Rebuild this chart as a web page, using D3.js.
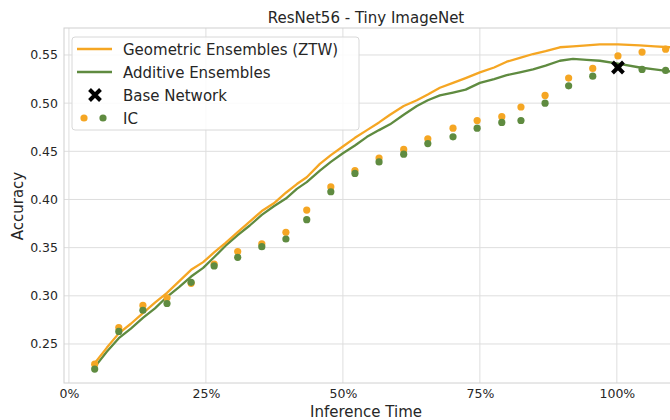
<!DOCTYPE html>
<html>
<head>
<meta charset="utf-8">
<script src="https://cdn.jsdelivr.net/npm/d3@7"></script>
<style>
  body { margin: 0; background: #fff; }
  svg text { font-family: "DejaVu Sans", sans-serif; fill: #262626; }
</style>
</head>
<body>
<svg id="chart" width="670" height="420"></svg>
<script>
// IC (internal classifier) points: inference time in %, accuracy
const icTime = [4.7, 9.1, 13.5, 17.9, 22.3, 26.5, 30.8, 35.2, 39.6, 43.4, 47.8, 52.2, 56.6,
  61.1, 65.5, 70.1, 74.5, 79.0, 82.5, 86.9, 91.2, 95.6, 100.2, 104.6, 108.9];
const icZtw = [0.229, 0.267, 0.290, 0.298, 0.313, 0.333, 0.346, 0.354, 0.366, 0.389, 0.413,
  0.430, 0.443, 0.452, 0.463, 0.474, 0.482, 0.486, 0.496, 0.508, 0.526, 0.536, 0.549, 0.553, 0.556];
const icAdd = [0.224, 0.263, 0.285, 0.292, 0.314, 0.331, 0.340, 0.351, 0.359, 0.379, 0.408,
  0.427, 0.439, 0.447, 0.458, 0.465, 0.474, 0.480, 0.482, 0.500, 0.518, 0.528, 0.538, 0.535, 0.534];

// ensemble curves
const ensTime = [4.7, 6.9, 9.1, 11.3, 13.5, 15.7, 17.9, 20.1, 22.3, 24.5, 26.5, 28.6, 30.8, 33.0,
  35.2, 37.4, 39.6, 41.6, 43.4, 45.8, 47.8, 50.0, 52.2, 54.4, 56.6, 58.6, 61.1, 63.5, 65.5, 67.7,
  70.1, 72.4, 75.0, 77.6, 79.9, 82.3, 84.7, 87.0, 89.6, 92.0, 94.5, 96.9, 100.2, 104.2, 106.9, 109.7, 111.5];
const geomAcc = [0.230, 0.246, 0.261, 0.271, 0.282, 0.293, 0.303, 0.315, 0.327, 0.335, 0.345, 0.355,
  0.366, 0.377, 0.388, 0.396, 0.407, 0.416, 0.423, 0.437, 0.446, 0.455, 0.464, 0.472, 0.480, 0.488,
  0.497, 0.503, 0.509, 0.516, 0.521, 0.526, 0.532, 0.537, 0.543, 0.547, 0.551, 0.554, 0.558, 0.559,
  0.560, 0.561, 0.561, 0.560, 0.559, 0.558, 0.557];
const addAcc = [0.226, 0.242, 0.256, 0.266, 0.277, 0.287, 0.299, 0.309, 0.320, 0.329, 0.340, 0.352,
  0.363, 0.373, 0.384, 0.393, 0.401, 0.411, 0.418, 0.430, 0.439, 0.448, 0.456, 0.465, 0.472, 0.478,
  0.488, 0.497, 0.503, 0.508, 0.511, 0.514, 0.521, 0.525, 0.529, 0.532, 0.535, 0.539, 0.544, 0.546,
  0.545, 0.544, 0.541, 0.537, 0.535, 0.533, 0.532];

const baseTime = [100.2];
const baseAcc = [0.537];

const xTicks = [0, 25, 50, 75, 100];
const yTicks = [0.25, 0.30, 0.35, 0.40, 0.45, 0.50, 0.55];

const orange = '#f5a623';
const green = '#5f8b40';

const svg = d3.select('#chart');
const plot = { left: 64, right: 670, top: 28, bottom: 383 };

const x = d3.scaleLinear().domain([-0.9, 109.7]).range([plot.left, plot.right]);
const y = d3.scaleLinear().domain([0.2095, 0.578]).range([plot.bottom, plot.top]);

svg.append('defs').append('clipPath').attr('id', 'clip')
  .append('rect')
  .attr('x', plot.left).attr('y', plot.top)
  .attr('width', plot.right - plot.left).attr('height', plot.bottom - plot.top);

// grid
const grid = svg.append('g').attr('class', 'grid');
grid.selectAll('line.gx').data(xTicks).enter().append('line')
  .attr('x1', d => x(d)).attr('x2', d => x(d))
  .attr('y1', plot.top).attr('y2', plot.bottom)
  .attr('stroke', '#dedede').attr('stroke-width', 1);
grid.selectAll('line.gy').data(yTicks).enter().append('line')
  .attr('y1', d => y(d)).attr('y2', d => y(d))
  .attr('x1', plot.left).attr('x2', plot.right)
  .attr('stroke', '#dedede').attr('stroke-width', 1);

// spines
svg.append('rect')
  .attr('x', plot.left).attr('y', plot.top)
  .attr('width', plot.right - plot.left + 5).attr('height', plot.bottom - plot.top)
  .attr('fill', 'none').attr('stroke', '#d0d0d0').attr('stroke-width', 1);

// axes (labels only, seaborn style without tick marks)
const xAxis = svg.append('g')
  .attr('transform', `translate(0,${plot.bottom})`)
  .call(d3.axisBottom(x).tickValues(xTicks).tickFormat(d => d + '%').tickSize(0).tickPadding(6));
const yAxis = svg.append('g')
  .attr('transform', `translate(${plot.left},0)`)
  .call(d3.axisLeft(y).tickValues(yTicks).tickFormat(d3.format('.2f')).tickSize(0).tickPadding(6));
[xAxis, yAxis].forEach(a => {
  a.select('.domain').remove();
  a.selectAll('text').style('font-size', '12.5px').style('font-family', '"DejaVu Sans", sans-serif').attr('fill', '#333');
});

const marks = svg.append('g').attr('clip-path', 'url(#clip)');

const line = d3.line().x(d => x(d[0])).y(d => y(d[1]));

marks.append('path')
  .datum(ensTime.map((t, i) => [t, addAcc[i]]))
  .attr('d', line).attr('fill', 'none')
  .attr('stroke', green).attr('stroke-width', 2.3).attr('stroke-linejoin', 'round');
marks.append('path')
  .datum(ensTime.map((t, i) => [t, geomAcc[i]]))
  .attr('d', line).attr('fill', 'none')
  .attr('stroke', orange).attr('stroke-width', 2.3).attr('stroke-linejoin', 'round');

marks.selectAll('circle.ztw').data(icTime.map((t, i) => [t, icZtw[i]])).enter()
  .append('circle').attr('class', 'ztw')
  .attr('cx', d => x(d[0])).attr('cy', d => y(d[1])).attr('r', 3.6).attr('fill', orange);
marks.selectAll('circle.add').data(icTime.map((t, i) => [t, icAdd[i]])).enter()
  .append('circle').attr('class', 'add')
  .attr('cx', d => x(d[0])).attr('cy', d => y(d[1])).attr('r', 3.6).attr('fill', green);

const cross = d3.symbol().type(d3.symbolX).size(80);
marks.selectAll('path.base').data(baseTime.map((t, i) => [t, baseAcc[i]])).enter()
  .append('path').attr('class', 'base')
  .attr('transform', d => `translate(${x(d[0])},${y(d[1])})`)
  .attr('d', cross).attr('stroke', '#000').attr('stroke-width', 4).attr('fill', 'none');

// title and axis labels
svg.append('text').attr('x', 366).attr('y', 23).attr('text-anchor', 'middle')
  .style('font-size', '15px').text('ResNet56 - Tiny ImageNet');
svg.append('text').attr('x', 366).attr('y', 417).attr('text-anchor', 'middle')
  .style('font-size', '15px').text('Inference Time');
svg.append('text').attr('transform', 'translate(23,206) rotate(-90)').attr('text-anchor', 'middle')
  .style('font-size', '15px').text('Accuracy');

// legend
const legend = svg.append('g');
legend.append('rect')
  .attr('x', 72).attr('y', 37).attr('width', 287).attr('height', 93).attr('rx', 3)
  .attr('fill', 'rgba(255,255,255,0.85)').attr('stroke', '#d8d8d8');
const rows = [
  { label: 'Geometric Ensembles (ZTW)', kind: 'line', color: orange },
  { label: 'Additive Ensembles', kind: 'line', color: green },
  { label: 'Base Network', kind: 'cross' },
  { label: 'IC', kind: 'dots' }
];
rows.forEach((r, i) => {
  const cy = 49 + i * 23;
  if (r.kind === 'line') {
    legend.append('line').attr('x1', 77).attr('x2', 112).attr('y1', cy).attr('y2', cy)
      .attr('stroke', r.color).attr('stroke-width', 2.3);
  } else if (r.kind === 'cross') {
    legend.append('path').attr('transform', `translate(95,${cy})`)
      .attr('d', cross).attr('stroke', '#000').attr('stroke-width', 4).attr('fill', 'none');
  } else {
    legend.append('circle').attr('cx', 84).attr('cy', cy).attr('r', 3.6).attr('fill', orange);
    legend.append('circle').attr('cx', 103).attr('cy', cy).attr('r', 3.6).attr('fill', green);
  }
  legend.append('text').attr('x', 123).attr('y', cy + 5.5).style('font-size', '15px').text(r.label);
});
</script>
</body>
</html>
